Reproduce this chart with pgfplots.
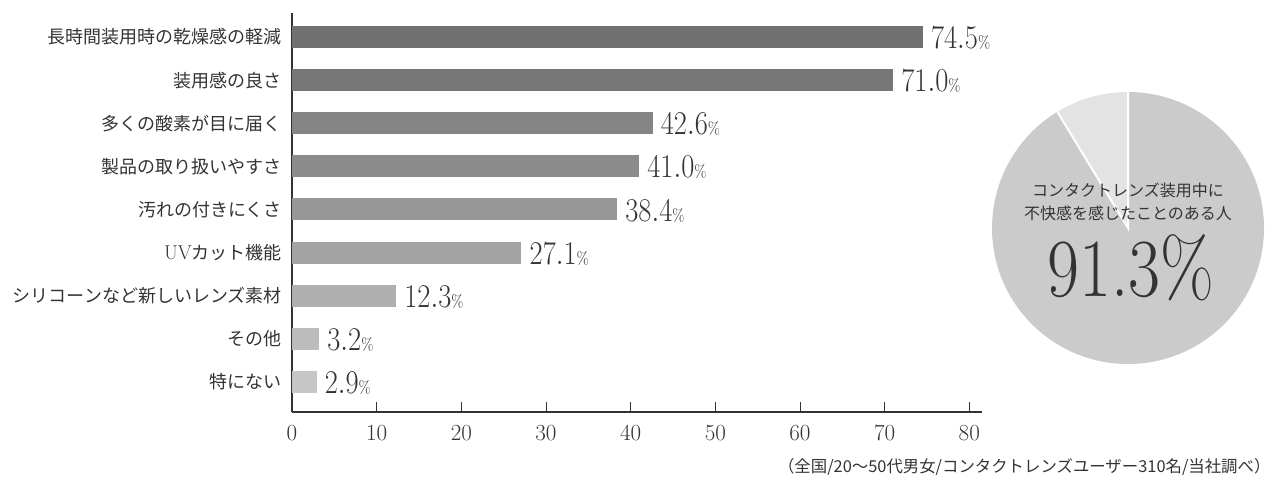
\documentclass[border=0pt]{standalone}
\usepackage{fontspec}
\usepackage{pgfplots}
\pgfplotsset{compat=1.18}
\newfontfamily\jp{Noto Sans CJK JP}
\definecolor{txt}{HTML}{333333}
\definecolor{ca}{HTML}{717171}
\definecolor{cb}{HTML}{777777}
\definecolor{cc}{HTML}{858585}
\definecolor{cd}{HTML}{8B8B8B}
\definecolor{ce}{HTML}{969696}
\definecolor{cf}{HTML}{A3A3A3}
\definecolor{cg}{HTML}{AFAFAF}
\definecolor{ch}{HTML}{BCBCBC}
\definecolor{ci}{HTML}{C6C6C6}
\definecolor{pieA}{HTML}{CBCBCB}
\definecolor{pieB}{HTML}{E3E3E3}
\begin{document}
\begin{tikzpicture}
\path[use as bounding box] (0,0) rectangle (960pt,-370.5pt);
\begin{axis}[
  at={(219pt,-309pt)}, anchor=south west,
  width=517.5pt, height=299.25pt, scale only axis,
  xbar, bar width=16.5pt, bar shift=0pt,
  xmin=0, xmax=81.5, ymin=-0.7, ymax=8.56,
  axis x line*=bottom, axis y line*=left,
  axis line style={txt, line width=1.3pt, -},
  xtick={0,10,...,80}, tick align=inside, major tick length=7.5pt,
  xtick style={txt, line width=0.7pt},
  ytick={0,...,8}, ytick style={draw=none},
  yticklabels={特にない,その他,シリコーンなど新しいレンズ素材,{{\rmfamily\fontsize{15pt}{15pt}\selectfont UV}カット機能},汚れの付きにくさ,製品の取り扱いやすさ,多くの酸素が目に届く,装用感の良さ,長時間装用時の乾燥感の軽減},
  yticklabel style={font=\jp\fontsize{13.5pt}{13.5pt}\selectfont, text=txt, anchor=east, inner sep=0pt, xshift=-7.5pt},
  xticklabel style={font=\fontsize{16.5pt}{16.5pt}\selectfont, text=txt, anchor=north, inner sep=0pt, yshift=-10pt},
  point meta=x,
  nodes near coords={\scalebox{0.86}[1]{\fontsize{24pt}{24pt}\selectfont\pgfmathprintnumber[fixed,fixed zerofill,precision=1]{\pgfplotspointmeta}{\fontsize{13pt}{13pt}\selectfont\%}}},
  nodes near coords style={anchor=west, inner sep=0pt, xshift=6pt, yshift=-1pt, text=txt},
  clip=false,
]
\addplot[fill=ca, draw=none] coordinates {(74.5,8)};
\addplot[fill=cb, draw=none] coordinates {(71.0,7)};
\addplot[fill=cc, draw=none] coordinates {(42.6,6)};
\addplot[fill=cd, draw=none] coordinates {(41.0,5)};
\addplot[fill=ce, draw=none] coordinates {(38.4,4)};
\addplot[fill=cf, draw=none] coordinates {(27.1,3)};
\addplot[fill=cg, draw=none] coordinates {(12.3,2)};
\addplot[fill=ch, draw=none] coordinates {(3.2,1)};
\addplot[fill=ci, draw=none] coordinates {(2.9,0)};
\end{axis}
\begin{axis}[
  at={(846pt,-171pt)}, anchor=center,
  width=204pt, height=204pt, scale only axis, hide axis,
  xmin=-1, xmax=1, ymin=-1, ymax=1, clip=false,
]
\fill[pieA] (axis cs:0,0) -- (axis cs:0,1) arc[start angle=90, end angle={90-3.6*91.3}, radius=102pt] -- cycle;
\fill[pieB] (axis cs:0,0) -- (axis cs:0,1) arc[start angle=90, end angle={90+3.6*8.7}, radius=102pt] -- cycle;
\draw[white, line width=1.5pt] (axis cs:0,1) -- (axis cs:0,0) -- (axis cs:{cos(90+3.6*8.7)},{sin(90+3.6*8.7)});
\end{axis}
\node[font=\jp\fontsize{12pt}{12pt}\selectfont, text=txt] at (846pt,-142.5pt) {コンタクトレンズ装用中に};
\node[font=\jp\fontsize{12pt}{12pt}\selectfont, text=txt] at (846pt,-160pt) {不快感を感じたことのある人};
\node[text=txt, inner sep=0pt] at (848pt,-201pt) {\scalebox{0.84}[1]{\fontsize{62pt}{62pt}\selectfont 91.3\%}};
\node[anchor=east, font=\jp\fontsize{12.3pt}{12.3pt}\selectfont, text=txt, inner sep=0pt] at (953pt,-350.25pt) {（全国/20～50代男女/コンタクトレンズユーザー310名/当社調べ）};
\end{tikzpicture}
\end{document}
